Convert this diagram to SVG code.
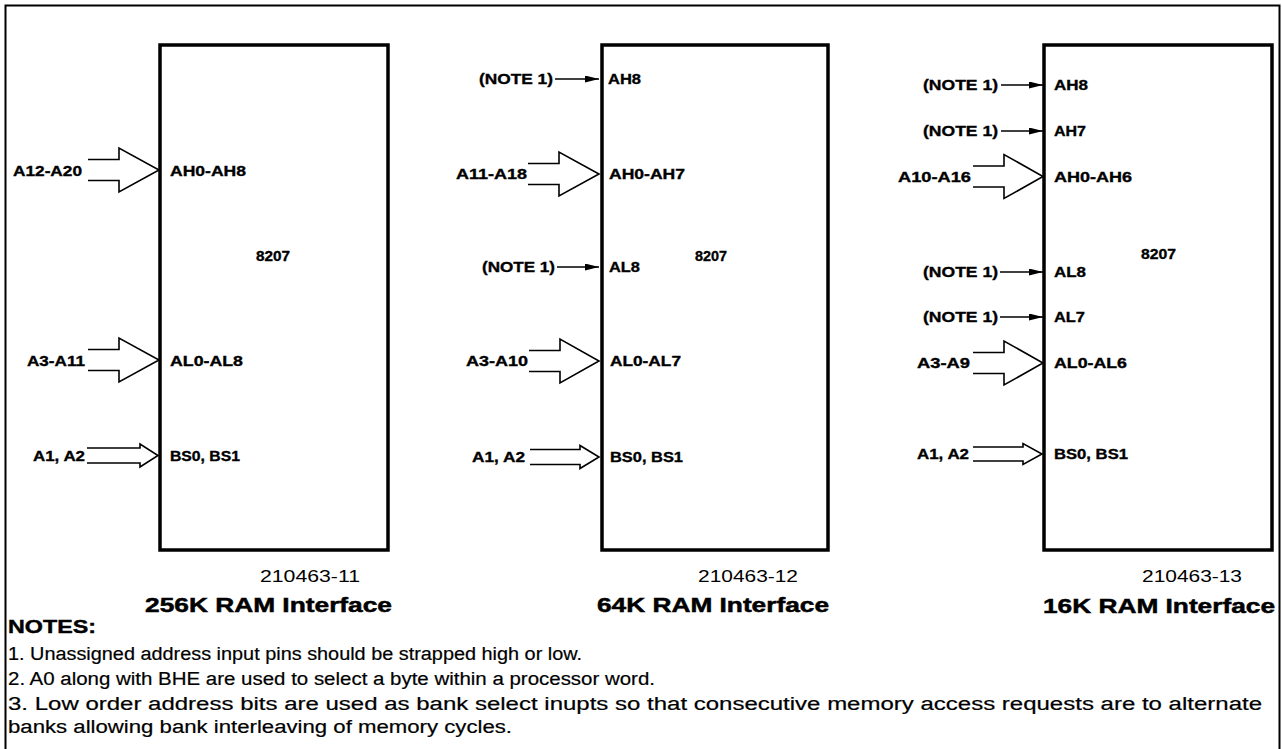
<svg xmlns="http://www.w3.org/2000/svg" width="1282" height="749" viewBox="0 0 1282 749">
<style>
  text { font-family: "Liberation Sans", Arial, Helvetica, sans-serif; fill: #000; }
  .pin { font-size: 15px; font-weight: bold; stroke: #000; stroke-width: 0.35; }
  .num { font-size: 15px; font-weight: bold; stroke: #000; stroke-width: 0.35; }
  .cap { font-size: 17px; }
  .title { font-size: 21px; font-weight: bold; stroke: #000; stroke-width: 0.5; }
  .note { font-size: 18px; stroke: #000; stroke-width: 0.2; }
  .noteh { font-size: 18px; font-weight: bold; stroke: #000; stroke-width: 0.4; }
  .box { fill: none; stroke: #000; stroke-width: 3.5; }
  .frame { fill: none; stroke: #000; stroke-width: 2; }
  .bus { fill: none; stroke: #000; stroke-width: 1.6; stroke-linejoin: miter; }
  .sig { fill: none; stroke: #000; stroke-width: 1.5; marker-end: url(#ah); }
</style>
<defs>
  <marker id="ah" markerUnits="userSpaceOnUse" markerWidth="14" markerHeight="7" refX="14" refY="3.5" orient="auto">
    <path d="M0,0 L14,3.5 L0,7 z" fill="#000"/>
  </marker>
</defs>
<rect x="0" y="0" width="1282" height="749" fill="#fff"/>
<rect class="frame" x="5.5" y="5.5" width="1274" height="770"/>

<g id="node-256k">
  <rect class="box" x="160" y="45" width="228" height="505"/>
  <text class="num" x="256" y="261" textLength="34" lengthAdjust="spacingAndGlyphs">8207</text>
  <text class="pin" x="170" y="176" textLength="76" lengthAdjust="spacingAndGlyphs">AH0-AH8</text>
  <text class="pin" x="170" y="366" textLength="73" lengthAdjust="spacingAndGlyphs">AL0-AL8</text>
  <text class="pin" x="170" y="461" textLength="70" lengthAdjust="spacingAndGlyphs">BS0, BS1</text>
  <text class="pin" x="13" y="176" textLength="69" lengthAdjust="spacingAndGlyphs">A12-A20</text>
  <text class="pin" x="27" y="366" textLength="58" lengthAdjust="spacingAndGlyphs">A3-A11</text>
  <text class="pin" x="33" y="461" textLength="52" lengthAdjust="spacingAndGlyphs">A1, A2</text>
  <text class="cap" x="260" y="582" textLength="100" lengthAdjust="spacingAndGlyphs">210463-11</text>
  <text class="title" x="145" y="612" textLength="247" lengthAdjust="spacingAndGlyphs">256K RAM Interface</text>
</g>

<g id="node-64k">
  <rect class="box" x="602" y="45" width="226" height="505"/>
  <text class="num" x="695" y="261" textLength="32" lengthAdjust="spacingAndGlyphs">8207</text>
  <text class="pin" x="608" y="84" textLength="33" lengthAdjust="spacingAndGlyphs">AH8</text>
  <text class="pin" x="609" y="179" textLength="76" lengthAdjust="spacingAndGlyphs">AH0-AH7</text>
  <text class="pin" x="609" y="272" textLength="31" lengthAdjust="spacingAndGlyphs">AL8</text>
  <text class="pin" x="610" y="366" textLength="71" lengthAdjust="spacingAndGlyphs">AL0-AL7</text>
  <text class="pin" x="610" y="462" textLength="73" lengthAdjust="spacingAndGlyphs">BS0, BS1</text>
  <text class="pin" x="479" y="84" textLength="74" lengthAdjust="spacingAndGlyphs">(NOTE 1)</text>
  <text class="pin" x="456" y="179" textLength="71" lengthAdjust="spacingAndGlyphs">A11-A18</text>
  <text class="pin" x="482" y="272" textLength="73" lengthAdjust="spacingAndGlyphs">(NOTE 1)</text>
  <text class="pin" x="466" y="366" textLength="62" lengthAdjust="spacingAndGlyphs">A3-A10</text>
  <text class="pin" x="472" y="462" textLength="53" lengthAdjust="spacingAndGlyphs">A1, A2</text>
  <text class="cap" x="698" y="582" textLength="100" lengthAdjust="spacingAndGlyphs">210463-12</text>
  <text class="title" x="597" y="612" textLength="232" lengthAdjust="spacingAndGlyphs">64K RAM Interface</text>
</g>

<g id="node-16k">
  <rect class="box" x="1044" y="45" width="228" height="505"/>
  <text class="num" x="1141" y="259" textLength="35" lengthAdjust="spacingAndGlyphs">8207</text>
  <text class="pin" x="1054" y="90" textLength="34" lengthAdjust="spacingAndGlyphs">AH8</text>
  <text class="pin" x="1054" y="136" textLength="32" lengthAdjust="spacingAndGlyphs">AH7</text>
  <text class="pin" x="1054" y="182" textLength="78" lengthAdjust="spacingAndGlyphs">AH0-AH6</text>
  <text class="pin" x="1054" y="277" textLength="32" lengthAdjust="spacingAndGlyphs">AL8</text>
  <text class="pin" x="1054" y="322" textLength="31" lengthAdjust="spacingAndGlyphs">AL7</text>
  <text class="pin" x="1054" y="368" textLength="73" lengthAdjust="spacingAndGlyphs">AL0-AL6</text>
  <text class="pin" x="1054" y="459" textLength="74" lengthAdjust="spacingAndGlyphs">BS0, BS1</text>
  <text class="pin" x="923" y="90" textLength="75" lengthAdjust="spacingAndGlyphs">(NOTE 1)</text>
  <text class="pin" x="923" y="136" textLength="75" lengthAdjust="spacingAndGlyphs">(NOTE 1)</text>
  <text class="pin" x="898" y="182" textLength="73" lengthAdjust="spacingAndGlyphs">A10-A16</text>
  <text class="pin" x="923" y="277" textLength="75" lengthAdjust="spacingAndGlyphs">(NOTE 1)</text>
  <text class="pin" x="923" y="322" textLength="75" lengthAdjust="spacingAndGlyphs">(NOTE 1)</text>
  <text class="pin" x="917" y="368" textLength="53" lengthAdjust="spacingAndGlyphs">A3-A9</text>
  <text class="pin" x="917" y="459" textLength="52" lengthAdjust="spacingAndGlyphs">A1, A2</text>
  <text class="cap" x="1142" y="582" textLength="100" lengthAdjust="spacingAndGlyphs">210463-13</text>
  <text class="title" x="1043" y="613" textLength="232" lengthAdjust="spacingAndGlyphs">16K RAM Interface</text>
</g>

<g id="connectors">
  <path class="bus" d="M88,159.5 H119 V148 L159,170 L119,192 V180.5 H88"/>
  <path class="bus" d="M88,349.5 H119 V338 L159,360 L119,382 V370.5 H88"/>
  <path class="bus" d="M87,448 H140 V444 L158,455.5 L140,467 V463 H87"/>
  <path class="bus" d="M528,163.5 H559 V152 L599,174 L559,196 V184.5 H528"/>
  <path class="bus" d="M529,350.5 H560 V339 L599,361 L560,383 V371.5 H529"/>
  <path class="bus" d="M530,449.5 H580 V445.5 L599,457 L580,468.5 V464.5 H530"/>
  <path class="bus" d="M973,166 H1004 V154.5 L1043,176.5 L1004,198.5 V187 H973"/>
  <path class="bus" d="M973,352.5 H1004 V341 L1043,363 L1004,385 V373.5 H973"/>
  <path class="bus" d="M973,447 H1023 V443.5 L1042,454 L1023,464.5 V461 H973"/>
  <line class="sig" x1="555" y1="79" x2="599" y2="79"/>
  <line class="sig" x1="557" y1="267" x2="599" y2="267"/>
  <line class="sig" x1="1001" y1="85" x2="1043" y2="85"/>
  <line class="sig" x1="1001" y1="131" x2="1043" y2="131"/>
  <line class="sig" x1="1000" y1="272" x2="1043" y2="272"/>
  <line class="sig" x1="1000" y1="317" x2="1043" y2="317"/>
</g>

<g id="notes">
  <text class="noteh" x="8" y="633" textLength="88" lengthAdjust="spacingAndGlyphs">NOTES:</text>
  <text class="note" x="8" y="660" textLength="574" lengthAdjust="spacingAndGlyphs">1. Unassigned address input pins should be strapped high or low.</text>
  <text class="note" x="8" y="685" textLength="647" lengthAdjust="spacingAndGlyphs">2. A0 along with BHE are used to select a byte within a processor word.</text>
  <text class="note" x="8" y="710" textLength="1254" lengthAdjust="spacingAndGlyphs">3. Low order address bits are used as bank select inupts so that consecutive memory access requests are to alternate</text>
  <text class="note" x="8" y="733" textLength="504" lengthAdjust="spacingAndGlyphs">banks allowing bank interleaving of memory cycles.</text>
</g>
</svg>
